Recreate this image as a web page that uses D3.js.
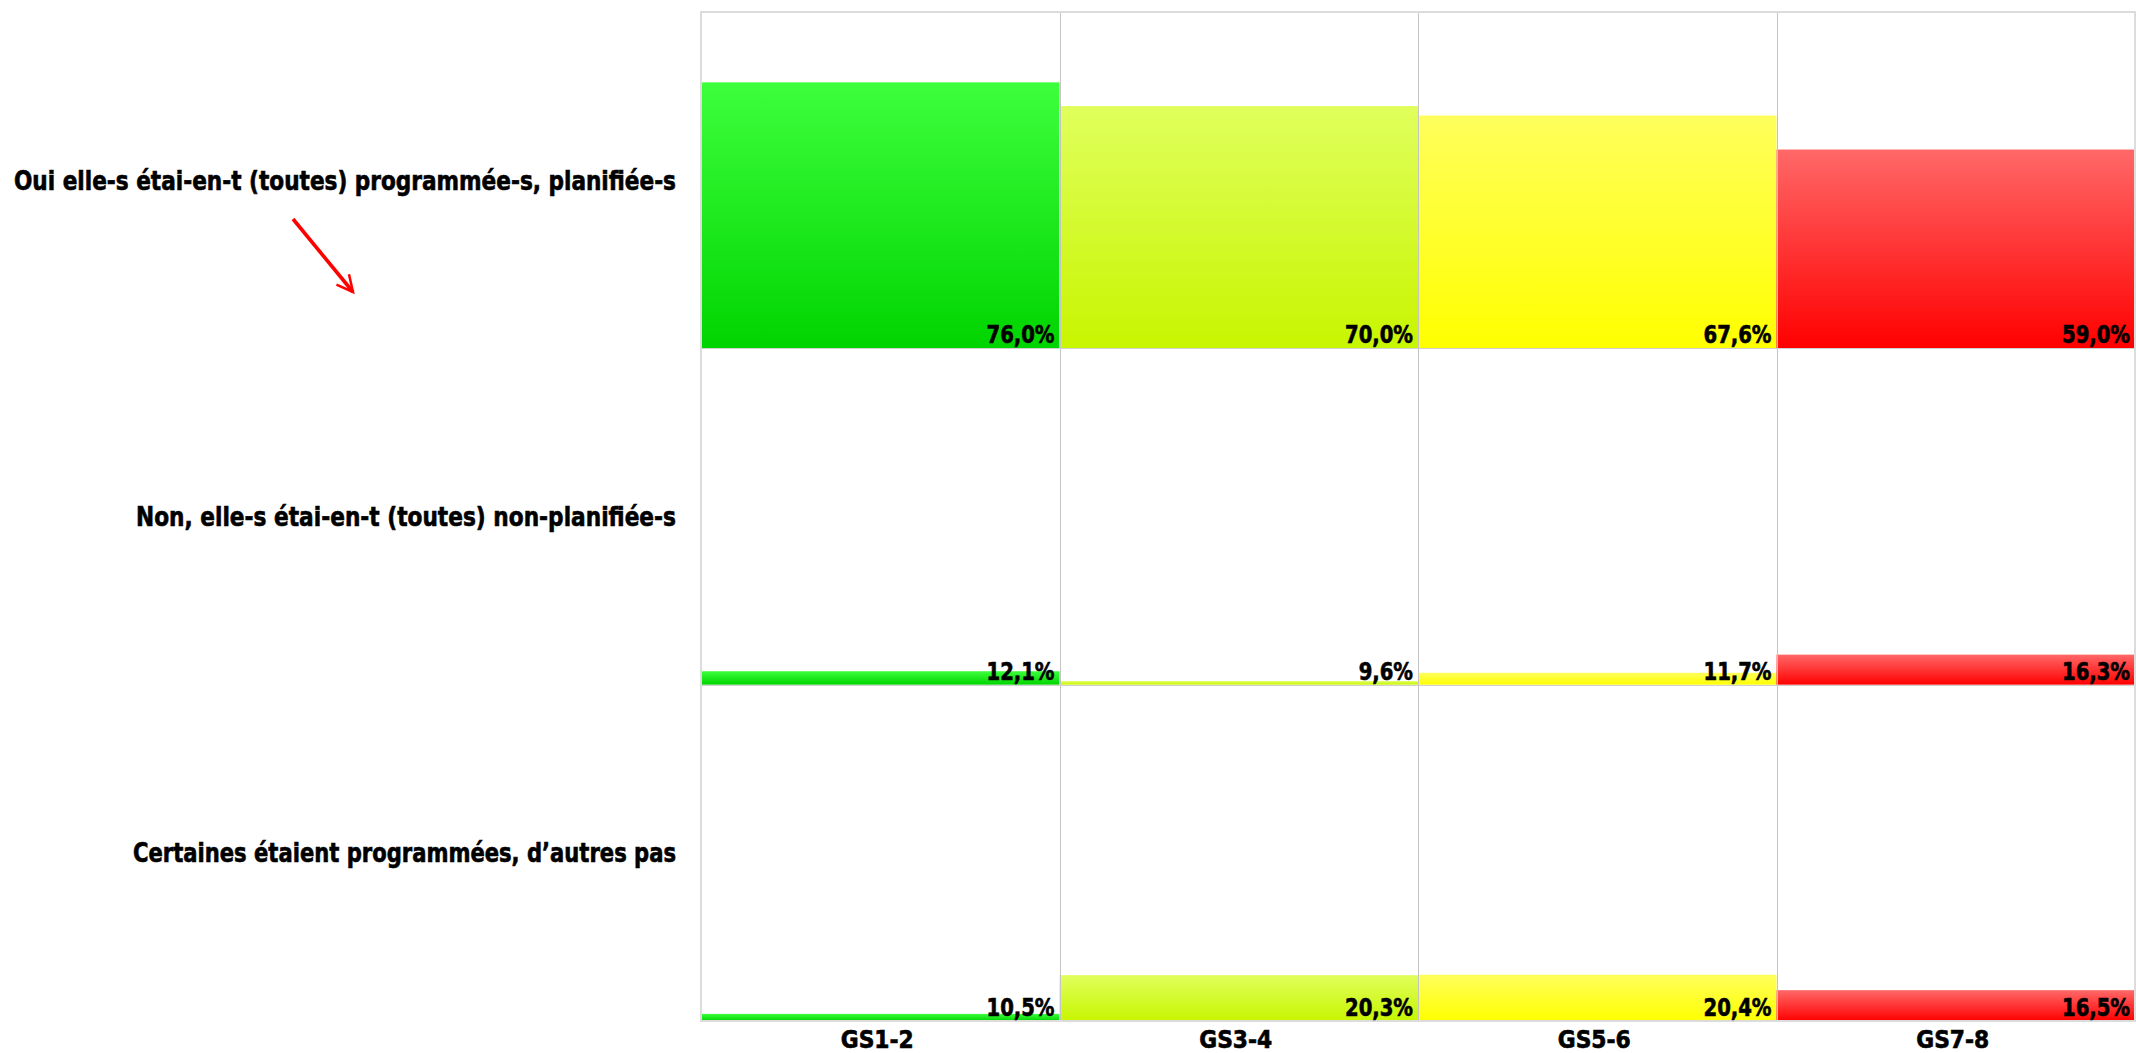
<!DOCTYPE html>
<html><head><meta charset="utf-8">
<script src="https://cdn.jsdelivr.net/npm/d3@7"></script>
<style>html,body{margin:0;padding:0;background:#fff;overflow:hidden}</style>
</head><body>
<svg id="chart" width="2136" height="1053"></svg>
<script>
const groups = ["GS1-2", "GS3-4", "GS5-6", "GS7-8"];
const answers = [
  "Oui elle-s étai-en-t (toutes) programmée-s, planifiée-s",
  "Non, elle-s étai-en-t (toutes) non-planifiée-s",
  "Certaines étaient programmées, d’autres pas"
];
const ouiValues = [76.0, 70.0, 67.6, 59.0];
const nonValues = [12.1, 9.6, 11.7, 16.3];
const certainesValues = [10.5, 20.3, 20.4, 16.5];
const seriesValues = [ouiValues, nonValues, certainesValues];
const groupTop = ["#3dff3d", "#e0ff5c", "#ffff5c", "#ff6868"];
const groupBottom = ["#00d400", "#c8f500", "#ffff00", "#ff0000"];

const fmt = v => d3.format(".1f")(v).replace(".", ",") + "%";

const svg = d3.select("#chart");
const L = 701, R = 2135, T = 12, B = 1021;
const x = d3.scaleBand().domain(groups).range([L, R]);
const row = d3.scaleBand().domain(answers).range([T, B]);
const rh = row.bandwidth();
const y = d3.scaleLinear().domain([8.7, 93.8]).range([rh, 0]);

const defs = svg.append("defs");
groups.forEach((g, i) => {
  const lg = defs.append("linearGradient").attr("id", "grad" + i)
    .attr("x1", 0).attr("y1", 0).attr("x2", 0).attr("y2", 1);
  lg.append("stop").attr("offset", "0%").attr("stop-color", groupTop[i]);
  lg.append("stop").attr("offset", "100%").attr("stop-color", groupBottom[i]);
});
defs.append("marker").attr("id", "arrowHead").attr("viewBox", "0 0 12 12")
  .attr("refX", 10).attr("refY", 6).attr("markerWidth", 6).attr("markerHeight", 6)
  .attr("markerUnits", "strokeWidth").attr("orient", "auto")
  .append("path").attr("d", "M1,1.5 L10,6 L1,10.5").attr("fill", "none")
  .attr("stroke", "#ff0000").attr("stroke-width", 1.4).attr("stroke-linejoin", "miter");

// bars
answers.forEach((a, ai) => {
  const gRow = svg.append("g").attr("transform", `translate(0,${row(a)})`);
  groups.forEach((g, gi) => {
    const v = seriesValues[ai][gi];
    gRow.append("rect")
      .attr("x", x(g)).attr("width", x.bandwidth())
      .attr("y", y(v)).attr("height", rh - y(v))
      .attr("fill", `url(#grad${gi})`);
  });
});

// grid lines
const grid = svg.append("g");
groups.slice(1).forEach(g => {
  grid.append("line").attr("x1", Math.round(x(g)) + 0.5).attr("x2", Math.round(x(g)) + 0.5)
    .attr("y1", T).attr("y2", B).attr("stroke", "#c4c4c4").attr("stroke-width", 1);
});
answers.slice(1).forEach(a => {
  grid.append("line").attr("x1", L).attr("x2", R)
    .attr("y1", Math.round(row(a)) + 0.5).attr("y2", Math.round(row(a)) + 0.5)
    .attr("stroke", "#d0d0d0").attr("stroke-width", 1);
});
grid.append("rect").attr("x", L).attr("y", T).attr("width", R - L).attr("height", B - T)
  .attr("fill", "none").attr("stroke", "#dcdcdc").attr("stroke-width", 2);

const FONT = "'DejaVu Sans Condensed','DejaVu Sans',sans-serif";

function fitTo(node, target) {
  d3.select(node).attr("textLength", target).attr("lengthAdjust", "spacingAndGlyphs");
}
function styleText(sel, size) {
  return sel.attr("font-family", FONT).attr("font-weight", "bold").attr("font-size", size)
    .attr("fill", "#000").attr("stroke", "#000").attr("stroke-width", 0.6)
    .attr("paint-order", "stroke");
}

// value labels
const vl = svg.append("g");
answers.forEach((a, ai) => {
  groups.forEach((g, gi) => {
    styleText(vl.append("text"), 24)
      .attr("x", x(g) + x.bandwidth() - 5)
      .attr("y", row(a) + rh - 5)
      .attr("text-anchor", "end")
      .text(fmt(seriesValues[ai][gi]));
  });
});
const vTexts = vl.selectAll("text");
const vRatio = 68 / vTexts.nodes()[0].getComputedTextLength();
vTexts.each(function () { fitTo(this, this.getComputedTextLength() * vRatio); });

// category labels (left)
const labelWidths = [662, 540, 543];
const cl = svg.append("g");
answers.forEach((a, i) => {
  const t = styleText(cl.append("text"), 26.5)
    .attr("x", 676).attr("y", row(a) + rh / 2 + 9.5)
    .attr("text-anchor", "end").text(a);
  fitTo(t.node(), labelWidths[i]);
});

// x axis labels
const xl = svg.append("g");
groups.forEach(g => {
  styleText(xl.append("text"), 24)
    .attr("x", x(g) + x.bandwidth() / 2 - 3).attr("y", 1048)
    .attr("text-anchor", "middle").text(g);
});
const xTexts = xl.selectAll("text");
const xRatio = 73 / xTexts.nodes()[0].getComputedTextLength();
xTexts.each(function () { fitTo(this, this.getComputedTextLength() * xRatio); });

// arrow annotation
svg.append("line").attr("x1", 293).attr("y1", 219).attr("x2", 353).attr("y2", 292)
  .attr("stroke", "#ff0000").attr("stroke-width", 3.6)
  .attr("marker-end", "url(#arrowHead)");
</script>
</body></html>
